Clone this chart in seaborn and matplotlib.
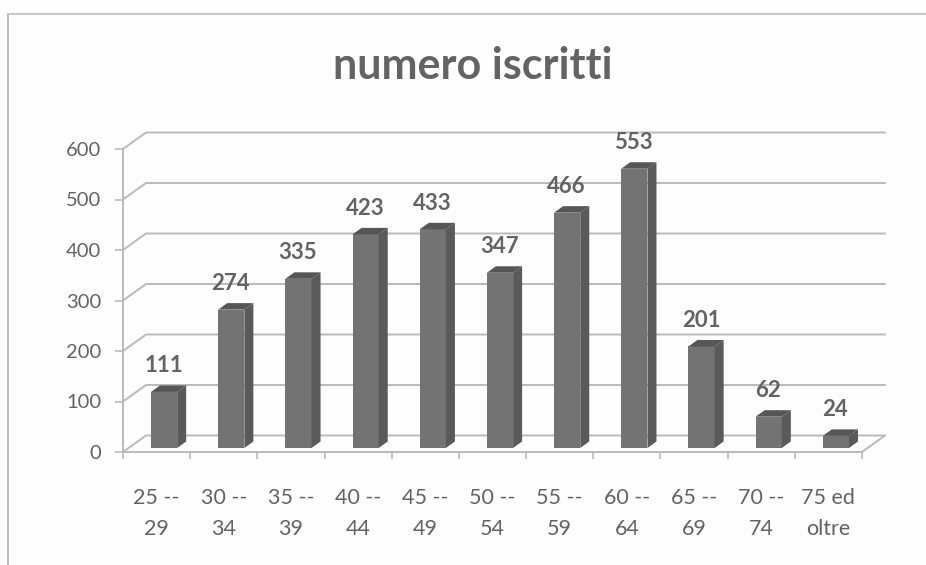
import matplotlib
matplotlib.use('Agg')
import matplotlib.pyplot as plt
import seaborn as sns
import pandas as pd
from matplotlib.patches import Polygon
from matplotlib.lines import Line2D
from matplotlib.transforms import Affine2D

categories = ['25 --\n29', '30 --\n34', '35 --\n39', '40 --\n44', '45 --\n49', '50 --\n54',
              '55 --\n59', '60 --\n64', '65 --\n69', '70 --\n74', '75 ed\noltre']
iscritti = [111, 274, 335, 423, 433, 347, 466, 553, 201, 62, 24]
y_ticks = [0, 100, 200, 300, 400, 500, 600]

W, H = 926, 565
GRID = '#bababa'
TEXT = '#636363'

sns.set_style('white')
plt.rcParams['font.family'] = ['Lato', 'DejaVu Sans']

df = pd.DataFrame({'fascia': categories, 'iscritti': iscritti})

fig = plt.figure(figsize=(W / 100, H / 100), dpi=100, facecolor='#fdfdfd')
ax = fig.add_axes([123 / W, (H - 452) / H, 739 / W, 303 / H])
ax.patch.set_alpha(0)

sns.barplot(data=df, x='fascia', y='iscritti', color='#737373', saturation=1, width=0.39, ax=ax, zorder=3)
ax.set_xlim(-0.5, 10.5)
ax.set_ylim(0, 600)

# pixel sizes in data units, for the fake 3d
px_x = 11 / 739
px_y = 600 / 303
wall_dx, wall_dy = 23 * px_x, 16.5 * px_y
bar_dx, bar_dy = 9 * px_x, 6.5 * px_y
shift = ax.transData + Affine2D().translate(7.5, 4)

for t in y_ticks:
    ax.plot([-0.5, -0.5 + wall_dx, 10.5 + wall_dx], [t, t + wall_dy, t + wall_dy],
            color=GRID, lw=1.4, clip_on=False, zorder=1)
ax.plot([10.5, 10.5 + wall_dx], [0, wall_dy], color=GRID, lw=1.4, clip_on=False, zorder=1)

for bar, v in zip(ax.patches, iscritti):
    x0 = bar.get_x()
    x1 = x0 + bar.get_width()
    bar.set_transform(shift)
    bar.set_clip_on(False)
    bar.set_edgecolor('none')
    side = Polygon([(x1, 0), (x1 + bar_dx, bar_dy), (x1 + bar_dx, v + bar_dy), (x1, v)],
                   closed=True, fc='#5a5a5a', ec='none', transform=shift, clip_on=False, zorder=3)
    top = Polygon([(x0, v), (x0 + bar_dx, v + bar_dy), (x1 + bar_dx, v + bar_dy), (x1, v)],
                  closed=True, fc='#565656', ec='none', transform=shift, clip_on=False, zorder=3)
    ax.add_patch(side)
    ax.add_patch(top)
    ax.annotate(str(v), xy=(x0 + bar.get_width() / 2, v), xytext=(7, 30), textcoords='offset pixels',
                ha='center', va='center', fontsize=16, fontweight='bold', color=TEXT, zorder=5)

ax.set_xlabel('')
ax.set_ylabel('')
ax.set_yticks(y_ticks)
ax.set_xticks(range(len(categories)))
ax.set_xticklabels(categories, linespacing=1.65)
ax.set_xticks([i - 0.5 for i in range(len(categories) + 1)], minor=True)
ax.tick_params(axis='x', which='major', length=0, pad=26, labelsize=15.5, labelcolor=TEXT)
ax.tick_params(axis='x', which='minor', length=5, width=1.2, color=GRID, bottom=True)
ax.tick_params(axis='y', length=5.5, width=1.2, color=GRID, left=True, pad=10, labelsize=14.5, labelcolor=TEXT)

for s in ['top', 'right']:
    ax.spines[s].set_visible(False)
for s in ['left', 'bottom']:
    ax.spines[s].set_color(GRID)
    ax.spines[s].set_linewidth(1.4)

fig.text(473 / W, 1 - 66 / H, 'numero iscritti', ha='center', va='center',
         fontsize=31, fontweight='bold', color=TEXT)

# chart area border from the scan
fig.add_artist(Line2D([8 / W, 8 / W], [0, 1 - 14 / H], color='#b8b8b8', lw=1.3))
fig.add_artist(Line2D([8 / W, 1], [1 - 14 / H, 1 - 14 / H], color='#c4c4c4', lw=1.3))

fig.savefig('out.png', dpi=100, facecolor=fig.get_facecolor())
